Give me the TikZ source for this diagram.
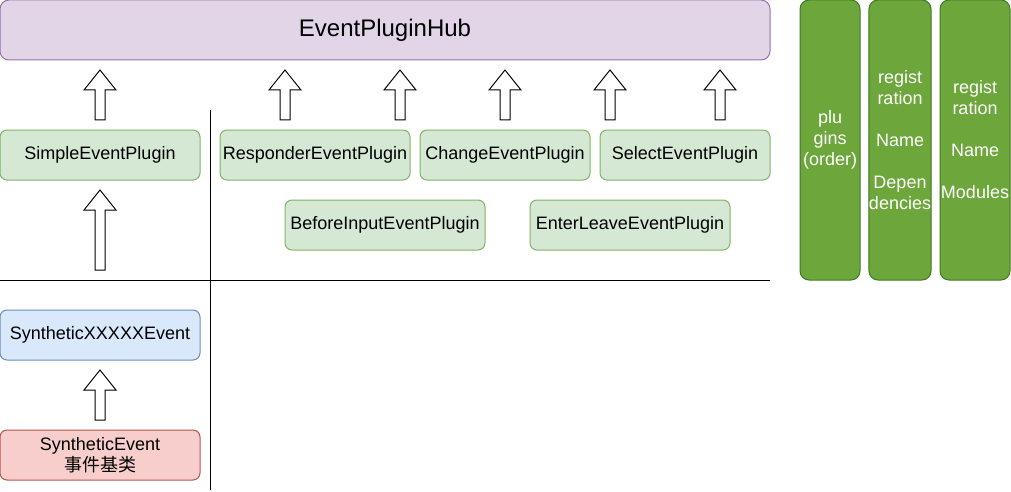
\documentclass[tikz,border=0pt]{standalone}
\usepackage{fontspec}
\setmainfont{Liberation Sans}
\newfontfamily\cjk{Noto Sans CJK SC}
\usetikzlibrary{positioning,calc}

\definecolor{hubfill}{HTML}{E1D5E7}
\definecolor{hubdraw}{HTML}{9673A6}
\definecolor{plugfill}{HTML}{D5E8D4}
\definecolor{plugdraw}{HTML}{82B366}
\definecolor{synfill}{HTML}{DAE8FC}
\definecolor{syndraw}{HTML}{6C8EBF}
\definecolor{basefill}{HTML}{F8CECC}
\definecolor{basedraw}{HTML}{B85450}
\definecolor{colfill}{HTML}{6DA63A}
\definecolor{coldraw}{HTML}{3F7A22}

\begin{document}
\begin{tikzpicture}[
    x=1pt, y=-1pt,
    node distance=20pt and 10pt,
    every node/.style={font=\fontsize{18}{21}\selectfont},
    box/.style={draw, rounded corners=7pt, align=center, minimum height=50pt, inner sep=0pt, outer sep=0pt, line width=1pt},
    plugin/.style={box, draw=plugdraw, fill=plugfill},
    column/.style={box, draw=coldraw, fill=colfill, text=white, minimum height=280pt, rounded corners=9pt},
    blockup/.style={draw, fill=white, line width=1pt, line join=miter,
        to path={let \p1=(\tikztostart), \p2=(\tikztotarget) in
        (\x1-5pt,\y1+10pt) -- (\x1+5pt,\y1+10pt) -- (\x1+5pt,\y2-30pt) -- (\x1+16pt,\y2-30pt)
        -- (\x1,\y2-10pt) -- (\x1-16pt,\y2-30pt) -- (\x1-5pt,\y2-30pt) -- cycle}}
]
\useasboundingbox (0,0) rectangle (1011,492);

\node[box, draw=hubdraw, fill=hubfill, minimum width=770pt, minimum height=60pt, rounded corners=9pt,
      font=\fontsize{24}{28}\selectfont] (hub) at (385,30) {EventPluginHub};

\node[plugin, minimum width=200pt] (simple) at (100,155) {SimpleEventPlugin};
\node[plugin, text width=190pt, right=20pt of simple] (resp) {ResponderEventPlugin};
\node[plugin, minimum width=170pt, right=of resp] (change) {ChangeEventPlugin};
\node[plugin, minimum width=170pt, right=of change] (select) {SelectEventPlugin};
\node[plugin, minimum width=200pt] (before) at (385,225) {BeforeInputEventPlugin};
\node[plugin, minimum width=200pt, right=45pt of before] (enter) {EnterLeaveEventPlugin};

\node[box, draw=syndraw, fill=synfill, minimum width=200pt] (syn) at (100,335) {SyntheticXXXXXEvent};
\node[box, draw=basedraw, fill=basefill, minimum width=200pt] (base) at (100,455) {SyntheticEvent\\{\cjk 事件基类}};

\node[column, minimum width=60pt] (plugins) at (830,140) {plu\\gins\\(order)};
\node[column, minimum width=60pt] (deps) at (900,140) {regist\\ration\\[21pt]Name\\[21pt]Depen\\dencies};
\node[column, minimum width=70pt] (mods) at (975,140) {regist\\ration\\[21pt]Name\\[21pt]Modules};

\coordinate (rule west) at (0,280);
\coordinate (rule east) at (770,280);
\coordinate (rule top) at (210,110);
\coordinate (rule bottom) at (210,490);
\draw[line width=1pt] (rule west) -- (rule east);
\draw[line width=1pt] (rule top) -- (rule bottom);

\draw[blockup] (simple.north) to (simple.north |- hub.south);
\draw[blockup] ([xshift=-30pt]resp.north) to ([xshift=-30pt]resp.north |- hub.south);
\draw[blockup] ([xshift=-10pt]resp.north east) to ([xshift=-10pt]resp.north east |- hub.south);
\draw[blockup] (change.north) to (change.north |- hub.south);
\draw[blockup] ([xshift=10pt]select.north west) to ([xshift=10pt]select.north west |- hub.south);
\draw[blockup] ([xshift=35pt]select.north) to ([xshift=35pt]select.north |- hub.south);
\draw[blockup] (simple.south |- rule west) to (simple.south);
\draw[blockup] (base.north) to (syn.south);
\end{tikzpicture}
\end{document}
